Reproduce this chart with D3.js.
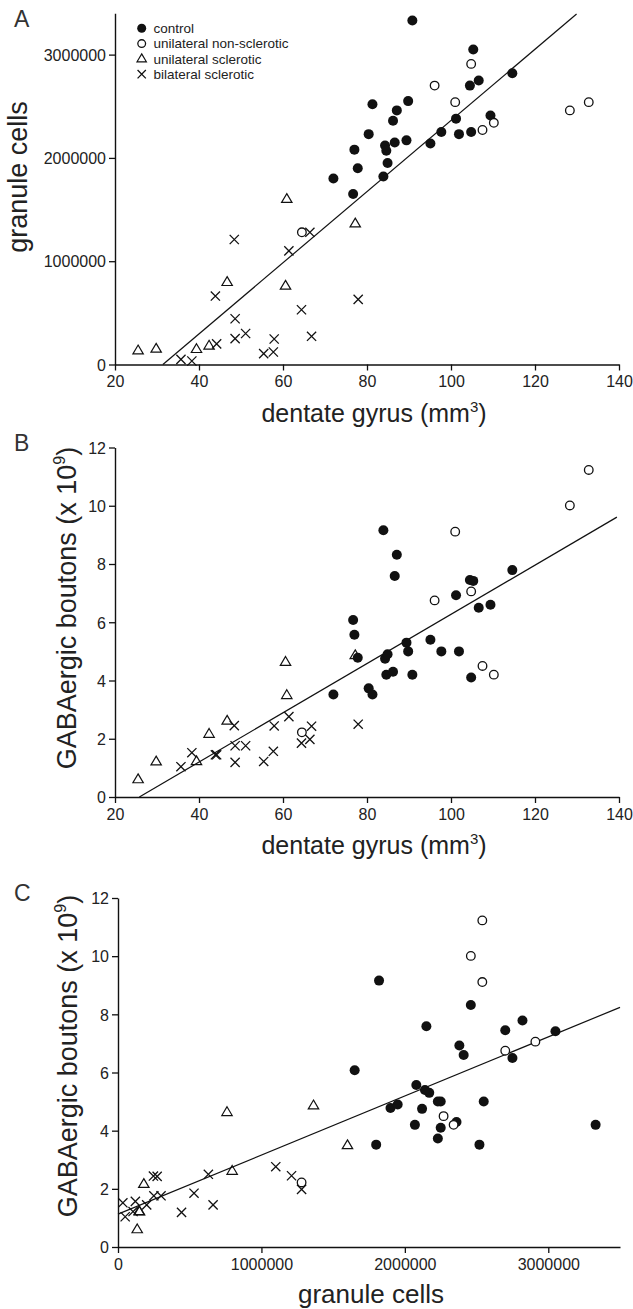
<!DOCTYPE html>
<html><head><meta charset="utf-8">
<script src="https://cdn.jsdelivr.net/npm/d3@7"></script>
<style>
html,body{margin:0;padding:0;background:#fff;}
svg{display:block;font-family:"Liberation Sans",Arial,Helvetica,sans-serif;}
</style></head><body>
<svg id="chart" width="633" height="1309"></svg>
<script>
// ---------------- DATA ----------------
const groupNames = ["control", "unilateral non-sclerotic", "unilateral sclerotic", "bilateral sclerotic"];

// control (filled circles)
const ctrlDentate = [72.0, 76.7, 77.0, 77.8, 80.4, 81.3, 83.9, 84.3, 84.6, 84.9, 86.2, 86.6, 87.1, 89.4, 89.8, 90.8, 95.1, 97.7, 101.2, 101.9, 104.5, 104.8, 105.3, 106.6, 109.4, 114.6];
const ctrlGranule = [1800000, 1650000, 2080000, 1900000, 2230000, 2520000, 1820000, 2120000, 2070000, 1950000, 2360000, 2150000, 2460000, 2170000, 2550000, 3330000, 2140000, 2250000, 2380000, 2230000, 2700000, 2250000, 3050000, 2750000, 2410000, 2820000];
const ctrlGaba    = [3.52, 6.08, 5.57, 4.78, 3.73, 3.52, 9.16, 4.75, 4.20, 4.90, 4.30, 7.59, 8.32, 5.30, 5.00, 4.20, 5.40, 5.00, 6.93, 5.00, 7.45, 4.10, 7.42, 6.50, 6.60, 7.79];

// unilateral non-sclerotic (open circles)
const unsDentate = [64.5, 96.1, 101.0, 104.8, 107.5, 110.2, 128.3, 132.8];
const unsGranule = [1280000, 2700000, 2540000, 2910000, 2270000, 2340000, 2460000, 2540000];
const unsGaba    = [2.22, 6.75, 9.11, 7.06, 4.50, 4.20, 10.01, 11.23];

// unilateral sclerotic (open triangles)
const usDentate = [25.5, 29.8, 39.4, 42.4, 46.7, 60.6, 60.9, 77.2];
const usGranule = [134000, 150000, 147000, 180000, 796000, 760000, 1600000, 1363000];
const usGaba    = [0.60, 1.21, 1.22, 2.16, 2.61, 4.63, 3.49, 4.86];

// bilateral sclerotic (crosses)
const bsDentate = [35.7, 38.3, 43.9, 44.2, 48.4, 48.6, 48.6, 51.1, 55.4, 57.7, 57.9, 61.4, 64.4, 66.4, 66.8, 77.9];
const bsGranule = [50000, 34000, 663000, 200000, 1210000, 443000, 250000, 300000, 105000, 121000, 247000, 1100000, 530000, 1280000, 273000, 630000];
const bsGaba    = [1.04, 1.52, 1.45, 1.45, 2.45, 1.19, 1.76, 1.76, 1.22, 1.57, 2.44, 2.76, 1.85, 1.98, 2.43, 2.50];

// regression lines (end points in data units)
const fitA_x = [31.4, 129.9],  fitA_y = [0, 3393000];
const fitB_x = [25.8, 139.5],  fitB_y = [0, 9.61];
const fitC_x = [0, 3500000],   fitC_y = [1.13, 8.24];

// tick values
const dgTicks = [20, 40, 60, 80, 100, 120, 140];
const gcTicksY = [0, 1000000, 2000000, 3000000];
const gabaTicks = [0, 2, 4, 6, 8, 10, 12];
const gcTicksX = [0, 1000000, 2000000, 3000000];

// ---------------- BUILD ----------------
const subjects = [];
function addGroup(g, dg, gc, gb) { dg.forEach((d, i) => subjects.push({ group: g, dg: d, gc: gc[i], gaba: gb[i] })); }
addGroup(0, ctrlDentate, ctrlGranule, ctrlGaba);
addGroup(1, unsDentate, unsGranule, unsGaba);
addGroup(2, usDentate, usGranule, usGaba);
addGroup(3, bsDentate, bsGranule, bsGaba);

const svg = d3.select("#chart");
const INK = "#111";
const TXT = "#222";

function drawMarker(sel, group, scale) {
  const s = scale || 1;
  if (group === 0) {
    sel.append("circle").attr("r", 5 * s).attr("fill", INK);
  } else if (group === 1) {
    sel.append("circle").attr("r", 4.3 * s).attr("fill", "#fff").attr("stroke", INK).attr("stroke-width", 1.3);
  } else if (group === 2) {
    sel.append("path").attr("d", `M0,${-5.6 * s}L${5.2 * s},${3.2 * s}L${-5.2 * s},${3.2 * s}Z`)
      .attr("fill", "none").attr("stroke", INK).attr("stroke-width", 1.2).attr("stroke-linejoin", "miter");
  } else {
    const r = 4.6 * s;
    sel.append("path").attr("d", `M${-r},${-r}L${r},${r}M${-r},${r}L${r},${-r}`)
      .attr("stroke", INK).attr("stroke-width", 1.3).attr("fill", "none");
  }
}

function panel(cfg) {
  const g = svg.append("g");
  const x = d3.scaleLinear().domain(cfg.xDomain).range(cfg.xRange);
  const y = d3.scaleLinear().domain(cfg.yDomain).range(cfg.yRange);

  const ax = g.append("g").attr("transform", `translate(0,${cfg.yRange[0]})`)
    .call(d3.axisBottom(x).tickValues(cfg.xTicks).tickSize(6).tickSizeOuter(0).tickPadding(5).tickFormat(d3.format("d")));
  const ay = g.append("g").attr("transform", `translate(${cfg.xRange[0]},0)`)
    .call(d3.axisLeft(y).tickValues(cfg.yTicks).tickSize(6).tickSizeOuter(0).tickPadding(3).tickFormat(d3.format("d")));
  [ax, ay].forEach(a => {
    a.select(".domain").attr("stroke", INK).attr("stroke-width", 1.4);
    a.selectAll(".tick line").attr("stroke", INK).attr("stroke-width", 1.3);
    a.selectAll(".tick text").attr("fill", TXT).attr("font-size", 16).attr("font-family", "Liberation Sans, Arial, sans-serif");
  });
  ay.selectAll(".tick text").attr("dy", "0.36em");
  ax.selectAll(".tick text").attr("dy", "0.72em");

  g.append("line")
    .attr("x1", x(cfg.fitX[0])).attr("y1", y(cfg.fitY[0]))
    .attr("x2", x(cfg.fitX[1])).attr("y2", y(cfg.fitY[1]))
    .attr("stroke", INK).attr("stroke-width", 1.2);

  const pts = g.append("g").selectAll("g").data(subjects).join("g")
    .attr("transform", d => `translate(${x(d[cfg.xKey])},${y(d[cfg.yKey])})`);
  pts.each(function (d) { drawMarker(d3.select(this), d.group); });

  const xt = g.append("text").attr("x", cfg.xTitleX).attr("y", cfg.yRange[0] + cfg.xTitleDy)
    .attr("text-anchor", "middle").attr("font-size", cfg.xTitleSize).attr("fill", TXT);
  cfg.xTitle(xt);

  const yt = g.append("text").attr("transform", `translate(${cfg.yTitleBase},${cfg.yTitleMid}) rotate(-90)`)
    .attr("text-anchor", "middle").attr("font-size", 27).attr("fill", TXT);
  cfg.yTitle(yt);

  g.append("text").attr("x", 14).attr("y", cfg.letterY).attr("font-size", 23).attr("fill", "#333").text(cfg.letter);
  return { x, y, g };
}

const dgTitle = t => {
  t.append("tspan").text("dentate gyrus (mm");
  t.append("tspan").attr("font-size", 15).attr("dy", -10).text("3");
  t.append("tspan").attr("dy", 10).text(")");
};
const gabaTitle = t => {
  t.append("tspan").text("GABAergic boutons (x 10");
  t.append("tspan").attr("font-size", 16).attr("dy", -11).text("9");
  t.append("tspan").attr("dy", 11).text(")");
};

panel({
  xKey: "dg", yKey: "gc",
  xDomain: [20, 140], xRange: [115, 619],
  yDomain: [0, 3400000], yRange: [364.5, 13.3],
  xTicks: dgTicks, yTicks: gcTicksY,
  fitX: fitA_x, fitY: fitA_y,
  xTitle: dgTitle, xTitleX: 374, xTitleDy: 57, xTitleSize: 25,
  yTitle: t => t.text("granule cells"), yTitleBase: 27, yTitleMid: 177,
  letter: "A", letterY: 27
});

panel({
  xKey: "dg", yKey: "gaba",
  xDomain: [20, 140], xRange: [115, 619],
  yDomain: [0, 12], yRange: [797, 447.5],
  xTicks: dgTicks, yTicks: gabaTicks,
  fitX: fitB_x, fitY: fitB_y,
  xTitle: dgTitle, xTitleX: 374, xTitleDy: 57, xTitleSize: 25,
  yTitle: gabaTitle, yTitleBase: 76, yTitleMid: 608,
  letter: "B", letterY: 451
});

panel({
  xKey: "gc", yKey: "gaba",
  xDomain: [0, 3500000], xRange: [118, 620],
  yDomain: [0, 12], yRange: [1247, 898],
  xTicks: gcTicksX, yTicks: gabaTicks,
  fitX: fitC_x, fitY: fitC_y,
  xTitle: t => t.text("granule cells"), xTitleX: 371, xTitleDy: 56, xTitleSize: 26,
  yTitle: gabaTitle, yTitleBase: 77, yTitleMid: 1056,
  letter: "C", letterY: 901
});

// legend (panel A)
const legend = svg.append("g");
groupNames.forEach((name, i) => {
  const row = legend.append("g").attr("transform", `translate(141.7,${28.3 + i * 15.3})`);
  drawMarker(row, i, 0.9);
  row.append("text").attr("x", 11.8).attr("dy", "0.36em").attr("font-size", 13.5).attr("fill", TXT).text(name);
});
</script>
</body></html>
